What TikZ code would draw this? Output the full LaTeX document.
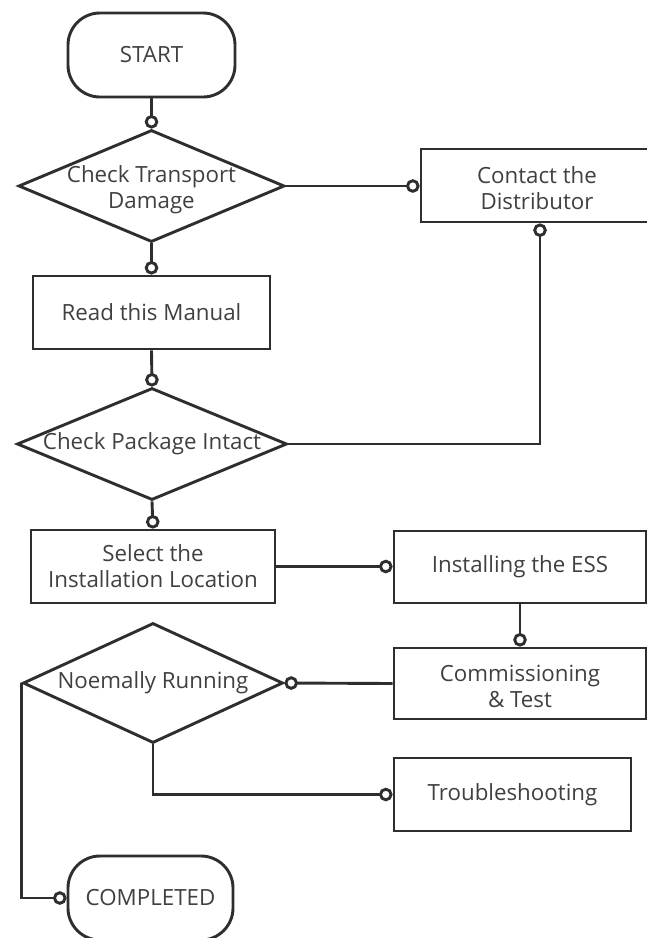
\documentclass[tikz,border=0pt]{standalone}
\usepackage{fontspec}
\setmainfont{Open Sans}
\usetikzlibrary{arrows.meta,shapes.geometric}
\definecolor{lc}{HTML}{2E2E2E}
\definecolor{tc}{HTML}{404040}
\tikzset{
  base/.style={draw=lc, line width=2.9bp, fill=white, inner sep=0pt},
  proc/.style={base, rectangle},
  term/.style={base, rectangle, rounded corners=32bp},
  dia/.style={base, diamond},
  txt/.style={text=tc, font=\fontsize{22.3bp}{26bp}\selectfont, align=center, inner sep=0pt},
  conn/.style={draw=lc, line width=2.9bp, -{Circle[fill=white,length=13.5bp,width=13.5bp]}},
}
\begin{document}
\begin{tikzpicture}[x=1bp,y=-1bp]
\useasboundingbox (0,0) rectangle (647,938);
\clip (0,0) rectangle (647,938);
\fill[white] (0,0) rectangle (647,938);
% nodes
\node[term, minimum width=167bp, minimum height=84bp] (start) at (151.5,55) {};
\node[txt] at (start) {START};
\node[dia, minimum width=266bp, minimum height=112bp] (d1) at (151.5,186) {};
\node[txt] at ([yshift=-4bp]d1.center) {Check Transport\\Damage};
\node[proc, minimum width=238bp, minimum height=73bp] (contact) at (540,185.5) {};
\node[txt] at ([xshift=-3bp,yshift=-3bp]contact.center) {Contact the\\Distributor};
\node[proc, minimum width=237bp, minimum height=73bp] (read) at (151.5,312.5) {};
\node[txt] at (read) {Read this Manual};
\node[dia, minimum width=270bp, minimum height=112bp] (d2) at (152,444) {};
\node[txt] at (d2) {Check Package Intact};
\node[proc, minimum width=244bp, minimum height=73bp] (select) at (153,566.5) {};
\node[txt] at (select) {Select the\\Installation Location};
\node[proc, minimum width=252bp, minimum height=72bp] (install) at (520,567) {};
\node[txt] at (install) {Installing the ESS};
\node[proc, minimum width=252bp, minimum height=71bp] (comm) at (520,683.5) {};
\node[txt] at ([yshift=-3bp]comm.center) {Commissioning\\\&~Test};
\node[dia, minimum width=260bp, minimum height=120bp] (d3) at (153,683) {};
\node[txt] at (d3) {Noemally Running};
\node[proc, minimum width=237bp, minimum height=73bp] (trouble) at (512.5,794.5) {};
\node[txt] at (trouble) {Troubleshooting};
\node[term, minimum width=165bp, minimum height=84bp] (done) at (150.5,898) {};
\node[txt] at (done) {COMPLETED};
% connectors
\draw[conn] (start.south) -- (d1.north);
\draw[conn] (d1.east) -- (d1.east -| contact.west);
\draw[conn] (d1.south) -- (read.north);
\draw[conn] (read.south) -- (d2.north);
\draw[conn] (d2.east) -| (contact.south);
\draw[conn] (d2.south) -- (select.north);
\draw[conn] (select.east) -- (select.east -| install.west);
\draw[conn] (install.south) -- (comm.north);
\draw[conn] (comm.west) -- (d3.east);
\draw[conn] (d3.south) |- (trouble.west);
\draw[conn] (d3.west) |- (done.west);
\end{tikzpicture}
\end{document}
